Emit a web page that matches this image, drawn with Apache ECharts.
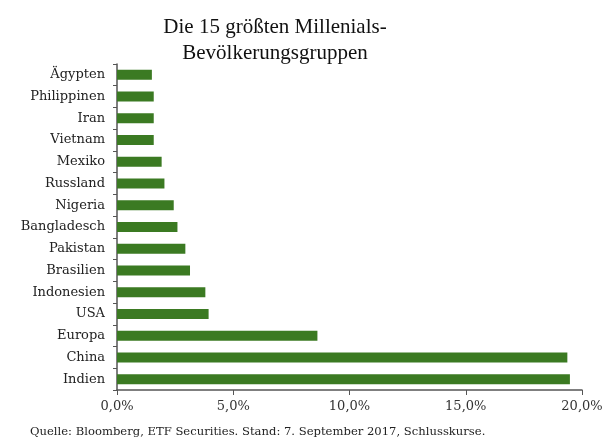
<!DOCTYPE html>
<html>
<head>
<meta charset="utf-8">
<script src="https://cdn.jsdelivr.net/npm/echarts@6/dist/echarts.min.js"></script>
<style>html,body{margin:0;padding:0;background:#fff;}#c{width:616px;height:443px;}</style>
</head>
<body>
<div id="c"></div>
<script>
const categories = ["Ägypten","Philippinen","Iran","Vietnam","Mexiko","Russland","Nigeria","Bangladesch","Pakistan","Brasilien","Indonesien","USA","Europa","China","Indien"];
const values = [1.5, 1.58, 1.58, 1.58, 1.92, 2.04, 2.44, 2.6, 2.94, 3.14, 3.8, 3.94, 8.62, 19.37, 19.48];
const xTicks = [0, 5, 10, 15, 20];
const titleText = "Die 15 größten Millenials-\nBevölkerungsgruppen";
const sourceText = "Quelle: Bloomberg, ETF Securities. Stand: 7. September 2017, Schlusskurse.";

const serif = "'Liberation Serif', 'DejaVu Serif', serif";
const wide = "'DejaVu Serif', serif";
const chart = echarts.init(document.getElementById('c'), null, {renderer: 'canvas'});
chart.setOption({
  animation: false,
  backgroundColor: '#fff',
  title: [{
    text: titleText,
    left: 270,
    textAlign: 'center',
    top: 9,
    textStyle: {fontFamily: serif, fontSize: 21, fontWeight: 'normal', color: '#111', lineHeight: 26}
  }, {
    text: sourceText,
    left: 30,
    top: 426,
    padding: 0,
    textStyle: {fontFamily: wide, fontSize: 11.6, fontWeight: 'normal', color: '#222'}
  }],
  grid: {left: 117, right: 34, top: 64, bottom: 53, containLabel: false},
  xAxis: {
    type: 'value',
    min: 0, max: 20, interval: 5,
    axisLine: {show: true, lineStyle: {color: '#555', width: 1.5}},
    axisTick: {show: true, length: 5, lineStyle: {color: '#555'}},
    splitLine: {show: false},
    axisLabel: {
      fontFamily: wide, fontSize: 13, color: '#333', margin: 10,
      formatter: v => xTicks.includes(v) ? v.toFixed(1).replace('.', ',') + '%' : ''
    }
  },
  yAxis: {
    type: 'category',
    data: categories,
    inverse: true,
    axisLine: {show: true, lineStyle: {color: '#555', width: 1.5}},
    axisTick: {show: true, length: 4, alignWithLabel: false, lineStyle: {color: '#555'}},
    axisLabel: {fontFamily: wide, fontSize: 13, color: '#222', margin: 12}
  },
  series: [{
    type: 'bar',
    data: values,
    barWidth: 10,
    itemStyle: {color: '#3b7a22'}
  }]
});
</script>
</body>
</html>
